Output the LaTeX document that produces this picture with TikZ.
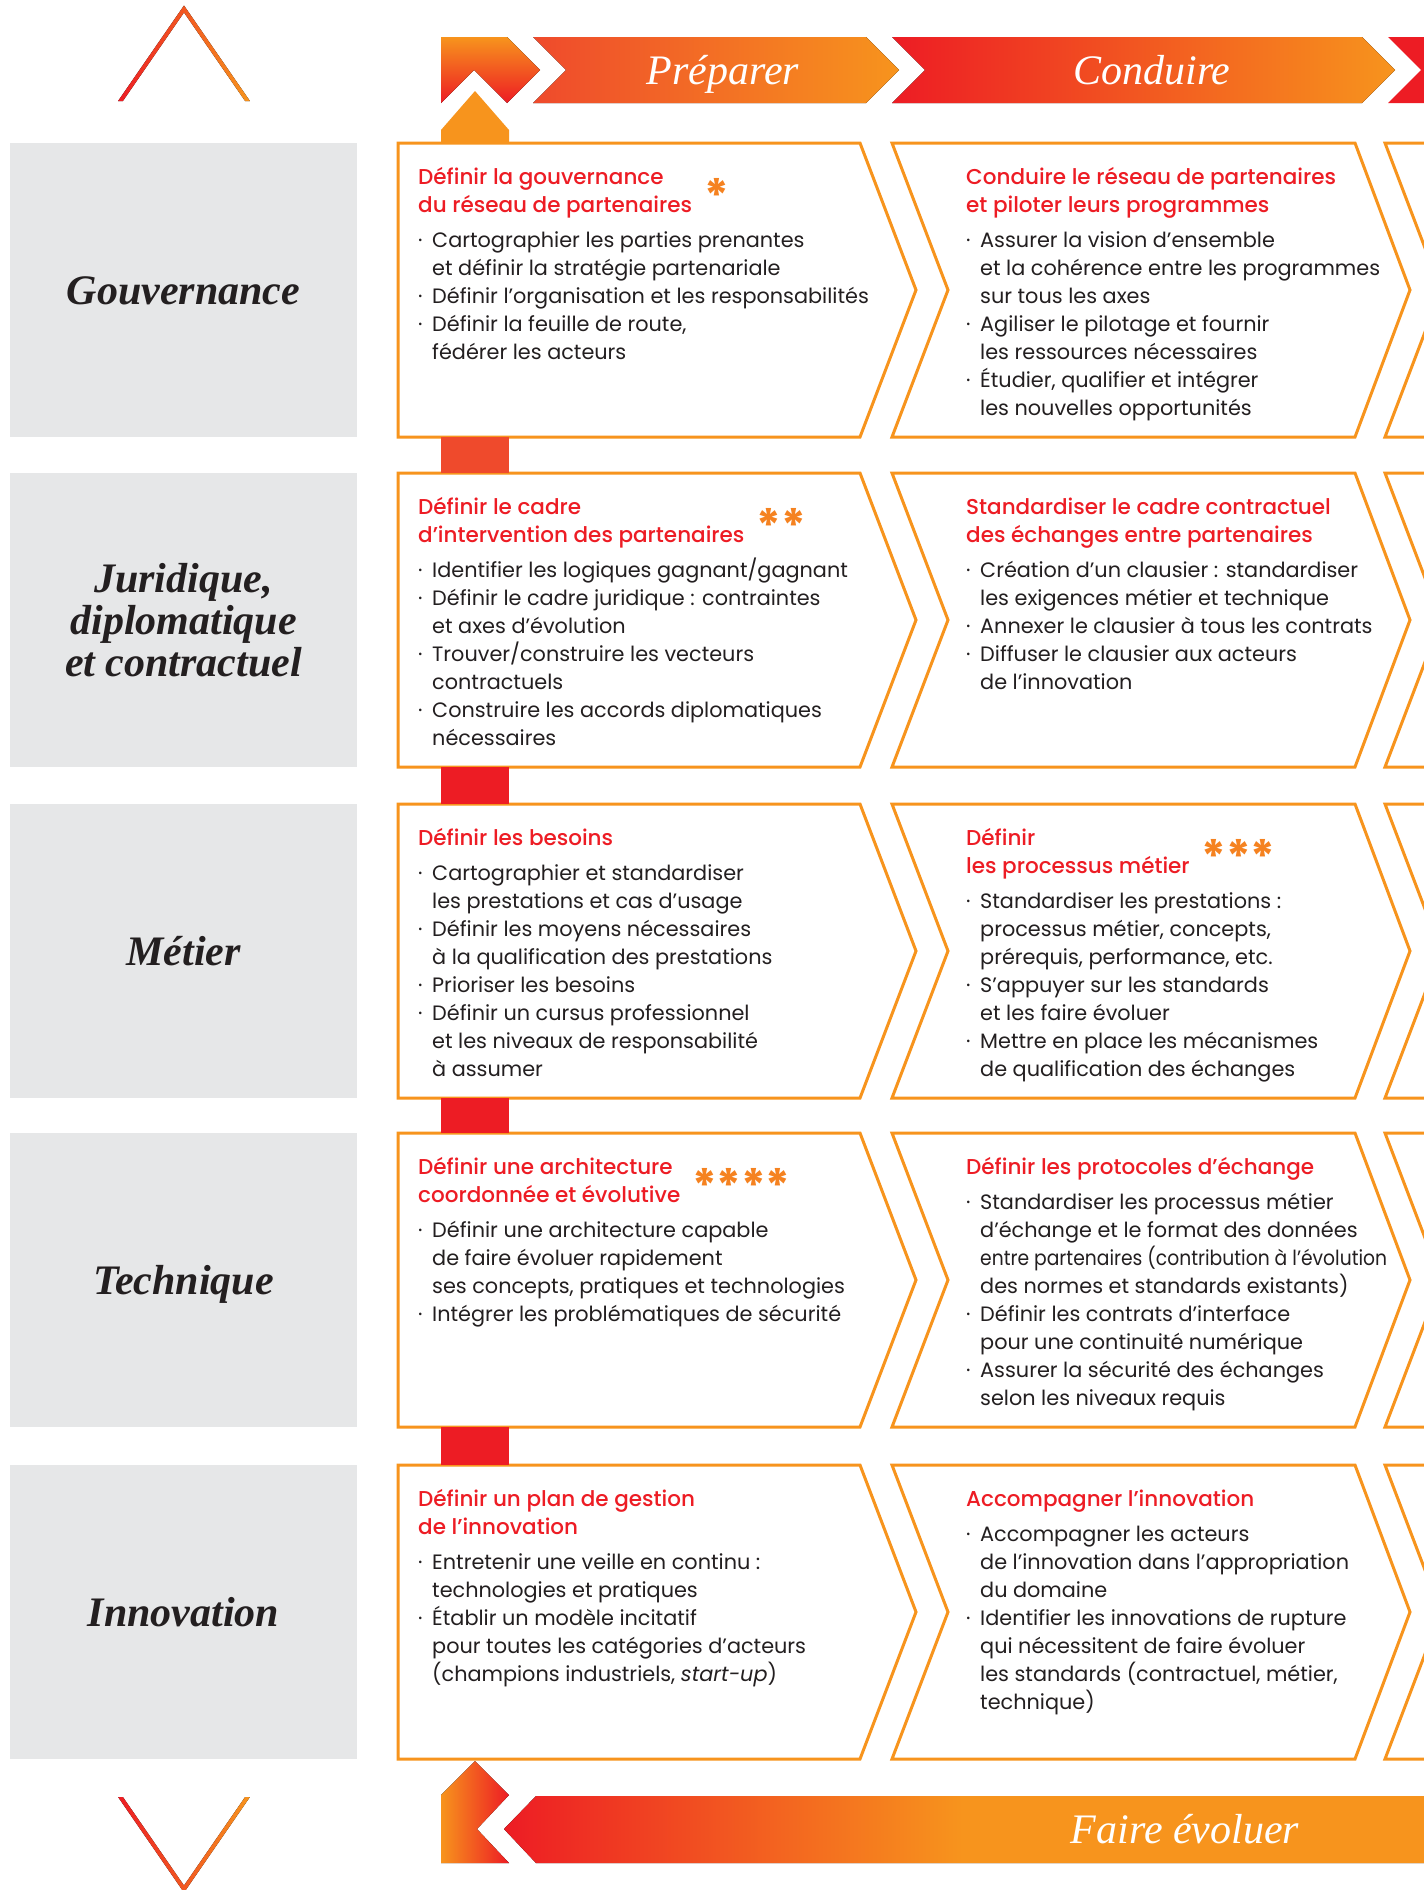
\documentclass[tikz,border=0pt]{standalone}
\usepackage{fontspec}
\setmainfont{Poppins}
\newfontfamily\lserif{Liberation Serif}
\IfFontExistsTF{Poppins Medium}{\newfontfamily\titlefont{Poppins Medium}}{\newfontfamily\titlefont{Poppins}[FakeBold=0.6]}
\usepackage{graphicx}
\definecolor{corange}{HTML}{F7941D}
\definecolor{cred}{HTML}{ED1C24}
\definecolor{credor}{HTML}{EF4A2C}
\definecolor{cgrey}{HTML}{E6E7E8}
\definecolor{ctext}{HTML}{231F20}
\definecolor{cstar}{HTML}{F58220}
\pgfdeclarehorizontalshading{fairesh}{100bp}{color(0bp)=(cred); color(25bp)=(cred); color(48bp)=(corange); color(100bp)=(corange)}
\newcommand\ttl[1]{{\color{cred}\titlefont\fontsize{21.5}{28}\selectfont #1}}
\newcommand\bu{\makebox[14pt][l]{·}}
\newcommand\ct{\hspace*{14pt}}
\newcommand\stars[1]{\hspace{12pt}\smash{\color{cstar}\fontsize{46}{46}\selectfont\bfseries #1}}
\newcommand\boxtxt[1]{\parbox[t]{520pt}{\fontsize{20.8}{28}\selectfont\raggedright\leavevmode #1}}
\begin{document}
\begin{tikzpicture}[x=1pt,y=-1pt,
  obox/.style={draw=corange,line width=3pt,fill=white},
  rowlabel/.style={font=\lserif\bfseries\itshape\fontsize{42}{42}\selectfont,text=ctext,align=center,inner sep=0},
  bantext/.style={font=\lserif\itshape\fontsize{42}{42}\selectfont,text=white,inner sep=0,anchor=base},
  btxt/.style={anchor=base west,inner sep=0,text=ctext}]
\useasboundingbox (0,0) rectangle (1424,1890);
\clip (0,0) rectangle (1424,1890);
\fill[white] (0,0) rectangle (1424,1890);

% rows: grey label boxes and chevron boxes
\foreach \T in {143,473,804,1133,1465}{
  \fill[cgrey] (10,\T) rectangle (357,{\T+294});
  \draw[obox] (398,\T) -- (860,\T) -- (916,{\T+147}) -- (860,{\T+294}) -- (398,{\T+294}) -- cycle;
  \draw[obox] (892,\T) -- (1355,\T) -- (1410,{\T+147}) -- (1355,{\T+294}) -- (892,{\T+294}) -- (948,{\T+147}) -- cycle;
  \draw[obox] (1385,\T) -- (1500,\T) -- (1500,{\T+294}) -- (1385,{\T+294}) -- (1441,{\T+147}) -- cycle;
}

% connector bars in column 1
\fill[credor] (441,437) rectangle (509,473);
\fill[cred] (441,767) rectangle (509,804);
\fill[cred] (441,1098) rectangle (509,1133);
\fill[cred] (441,1427) rectangle (509,1465);

% top: up arrow and small piece
\fill[corange] (441,143) -- (441,130) -- (475,91) -- (509,130) -- (509,143) -- cycle;
\fill[top color=corange,bottom color=cred] (441,37) -- (507,37) -- (540,70) -- (507,103) -- (474,70) -- (441,103) -- cycle;
% top banner
\fill[left color=credor,right color=corange] (533,37) -- (866,37) -- (899,70) -- (866,103) -- (533,103) -- (566,70) -- cycle;
\fill[left color=cred,right color=corange] (892,37) -- (1362,37) -- (1395,70) -- (1362,103) -- (892,103) -- (925,70) -- cycle;
\fill[cred] (1388,37) -- (1500,37) -- (1500,103) -- (1388,103) -- (1421,70) -- cycle;
\node[bantext] (prep) at (723,84) {Préparer};
\node[bantext] (cond) at (1152,84) {Conduire};

% bottom piece and banner
\fill[left color=corange,right color=cred] (441,1795) -- (475,1761) -- (509,1795) -- (477,1829) -- (509,1863) -- (441,1863) -- cycle;
\fill[shading=fairesh] (504,1829) -- (536,1796) -- (1500,1796) -- (1500,1863) -- (536,1863) -- cycle;
\node[bantext] (faire) at (1185,1843) {Faire évoluer};

% carets
\fill[left color=cred,right color=corange] (118.1,101) -- (184,5.5) -- (249.9,101) -- (245.1,101) -- (184,12.5) -- (122.9,101) -- cycle;
\fill[left color=cred,right color=corange] (118.1,1797) -- (122.9,1797) -- (184,1885.5) -- (245.1,1797) -- (249.9,1797) -- (184,1892.5) -- cycle;

% row labels
\node[rowlabel,anchor=base] (lgouv) at (183.5,304) {Gouvernance};
\node[rowlabel,anchor=center] (ljur) at (183.5,620) {Juridique,\\diplomatique\\et contractuel};
\node[rowlabel,anchor=base] (lmet) at (183.5,965) {Métier};
\node[rowlabel,anchor=base] (ltech) at (183.5,1294) {Technique};
\node[rowlabel,anchor=base] (linno) at (183.5,1626) {Innovation};

% row 1
\node[btxt] (t11) at (418,184) {\boxtxt{%
\ttl{Définir la gouvernance}\\
\ttl{du réseau de partenaires}\stars{*}\\[7pt]
\bu Cartographier les parties prenantes\\
\ct et définir la stratégie partenariale\\
\bu Définir l’organisation et les responsabilités\\
\bu Définir la feuille de route,\\
\ct fédérer les acteurs}};
\node[btxt] (t12) at (966,184) {\boxtxt{%
\ttl{Conduire le réseau de partenaires}\\
\ttl{et piloter leurs programmes}\\[7pt]
\bu Assurer la vision d’ensemble\\
\ct et la cohérence entre les programmes\\
\ct sur tous les axes\\
\bu Agiliser le pilotage et fournir\\
\ct les ressources nécessaires\\
\bu Étudier, qualifier et intégrer\\
\ct les nouvelles opportunités}};

% row 2
\node[btxt] (t21) at (418,514) {\boxtxt{%
\ttl{Définir le cadre}\\
\ttl{d’intervention des partenaires}\stars{**}\\[7pt]
\bu Identifier les logiques gagnant/gagnant\\
\bu Définir le cadre juridique : contraintes\\
\ct et axes d’évolution\\
\bu Trouver/construire les vecteurs\\
\ct contractuels\\
\bu Construire les accords diplomatiques\\
\ct nécessaires}};
\node[btxt] (t22) at (966,514) {\boxtxt{%
\ttl{Standardiser le cadre contractuel}\\
\ttl{des échanges entre partenaires}\\[7pt]
\bu Création d’un clausier : standardiser\\
\ct les exigences métier et technique\\
\bu Annexer le clausier à tous les contrats\\
\bu Diffuser le clausier aux acteurs\\
\ct de l’innovation}};

% row 3
\node[btxt] (t31) at (418,845) {\boxtxt{%
\ttl{Définir les besoins}\\[7pt]
\bu Cartographier et standardiser\\
\ct les prestations et cas d’usage\\
\bu Définir les moyens nécessaires\\
\ct à la qualification des prestations\\
\bu Prioriser les besoins\\
\bu Définir un cursus professionnel\\
\ct et les niveaux de responsabilité\\
\ct à assumer}};
\node[btxt] (t32) at (966,845) {\boxtxt{%
\ttl{Définir}\\
\ttl{les processus métier}\stars{***}\\[7pt]
\bu Standardiser les prestations :\\
\ct processus métier, concepts,\\
\ct prérequis, performance, etc.\\
\bu S’appuyer sur les standards\\
\ct et les faire évoluer\\
\bu Mettre en place les mécanismes\\
\ct de qualification des échanges}};

% row 4
\node[btxt] (t41) at (418,1174) {\boxtxt{%
\ttl{Définir une architecture}\\
\ttl{coordonnée et évolutive}\stars{****}\\[7pt]
\bu Définir une architecture capable\\
\ct de faire évoluer rapidement\\
\ct ses concepts, pratiques et technologies\\
\bu Intégrer les problématiques de sécurité}};
\node[btxt] (t42) at (966,1174) {\boxtxt{%
\ttl{Définir les protocoles d’échange}\\[7pt]
\bu Standardiser les processus métier\\
\ct d’échange et le format des données\\
\ct \scalebox{0.9}[1]{entre partenaires (contribution à l’évolution}\\
\ct des normes et standards existants)\\
\bu Définir les contrats d’interface\\
\ct pour une continuité numérique\\
\bu Assurer la sécurité des échanges\\
\ct selon les niveaux requis}};

% row 5
\node[btxt] (t51) at (418,1506) {\boxtxt{%
\ttl{Définir un plan de gestion}\\
\ttl{de l’innovation}\\[7pt]
\bu Entretenir une veille en continu :\\
\ct technologies et pratiques\\
\bu Établir un modèle incitatif\\
\ct pour toutes les catégories d’acteurs\\
\ct (champions industriels, \textit{start-up})}};
\node[btxt] (t52) at (966,1506) {\boxtxt{%
\ttl{Accompagner l’innovation}\\[7pt]
\bu Accompagner les acteurs\\
\ct de l’innovation dans l’appropriation\\
\ct du domaine\\
\bu Identifier les innovations de rupture\\
\ct qui nécessitent de faire évoluer\\
\ct les standards (contractuel, métier,\\
\ct technique)}};
\end{tikzpicture}
\end{document}
